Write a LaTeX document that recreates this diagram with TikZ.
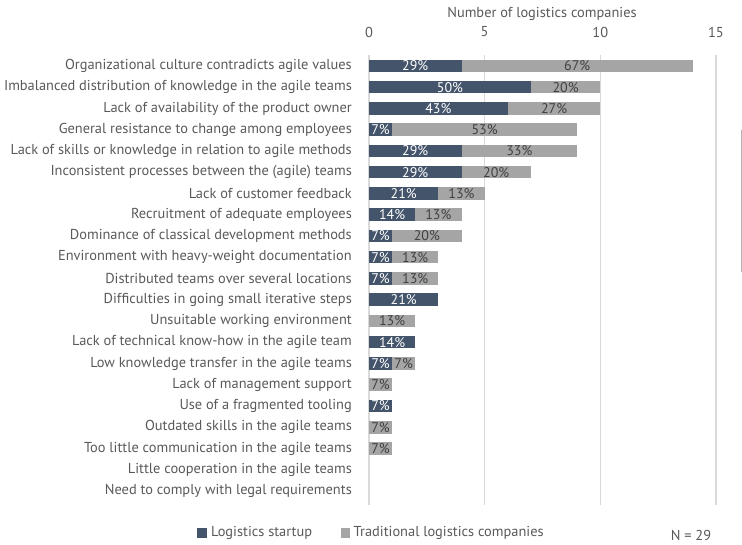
\documentclass[tikz,border=0pt]{standalone}
\usepackage{fontspec}
\setmainfont{PT Sans}
\usepackage{xcolor}
\usetikzlibrary{positioning}
\definecolor{startup}{HTML}{44546A}
\definecolor{tradit}{HTML}{A5A5A5}
\definecolor{txtgray}{HTML}{595959}
\definecolor{gridgray}{HTML}{D9D9D9}
\begin{document}
\begin{tikzpicture}[x=1pt, y=-1pt, font=\fontsize{14.4}{16}\selectfont, text=txtgray,
    lab/.style={anchor=east, inner sep=0pt},
    pct/.style={inner sep=0pt, font=\fontsize{14}{15}\selectfont},
    gridline/.style={draw=gridgray, line width=1.5pt},
    keybox/.style={fill=#1, minimum size=9.5pt, inner sep=0pt}]
\useasboundingbox (0,0) rectangle (742,545);
% axis title, ticks and grid
\node (axtitle) at (542,14) {Number of logistics companies};
\foreach \v in {0,5,10,15}{
	\node (tick\v) at (369+23.13*\v,32) {\v};
	\draw[gridline] (369+23.13*\v,55) -- (369+23.13*\v,505);
}
% bars: startups (of 14) / traditional (of 15)
\foreach \s/\t/\lab [count=\i] in {
	4/10/{Organizational culture contradicts agile values},
	7/3/{Imbalanced distribution of knowledge in the agile teams},
	6/4/{Lack of availability of the product owner},
	1/8/{General resistance to change among employees},
	4/5/{Lack of skills or knowledge in relation to agile methods},
	4/3/{Inconsistent processes between the (agile) teams},
	3/2/{Lack of customer feedback},
	2/2/{Recruitment of adequate employees},
	1/3/{Dominance of classical development methods},
	1/2/{Environment with heavy-weight documentation},
	1/2/{Distributed teams over several locations},
	3/0/{Difficulties in going small iterative steps},
	0/2/{Unsuitable working environment},
	2/0/{Lack of technical know-how in the agile team},
	1/1/{Low knowledge transfer in the agile teams},
	0/1/{Lack of management support},
	1/0/{Use of a fragmented tooling},
	0/1/{Outdated skills in the agile teams},
	0/1/{Too little communication in the agile teams},
	0/0/{Little cooperation in the agile teams},
	0/0/{Need to comply with legal requirements}}{
	\pgfmathsetmacro{\yy}{66+21.25*(\i-1)}
	\pgfmathsetmacro{\xs}{369+23.13*\s}
	\pgfmathsetmacro{\xt}{369+23.13*(\s+\t)}
	\node[lab] (lab\i) at (352,\yy) {\lab};
	\ifnum\s>0
		\fill[startup] (369,\yy-6.25) rectangle (\xs,\yy+6.25);
		\pgfmathtruncatemacro{\ps}{round(\s/14*100)}
		\node[pct, text=white] (ps\i) at ({(369+\xs)/2},\yy) {\ps\%};
	\fi
	\ifnum\t>0
		\fill[tradit] (\xs,\yy-6.25) rectangle (\xt,\yy+6.25);
		\pgfmathtruncatemacro{\pt}{round(\t/15*100)}
		\node[pct, text=black!75] (pt\i) at ({(\xs+\xt)/2},\yy) {\pt\%};
	\fi
}
% legend
\node[keybox=startup] (keys) at (202,533) {};
\node[right=4pt of keys, inner sep=0pt] (keyslab) {Logistics startup};
\node[keybox=tradit] (keyt) at (345.5,533) {};
\node[right=3pt of keyt, inner sep=0pt] (keytlab) {Traditional logistics companies};
\node (nn) at (691,535) {N = 29};
\draw[black!30, line width=0.6pt] (741,130) -- (741,272);
\end{tikzpicture}
\end{document}
